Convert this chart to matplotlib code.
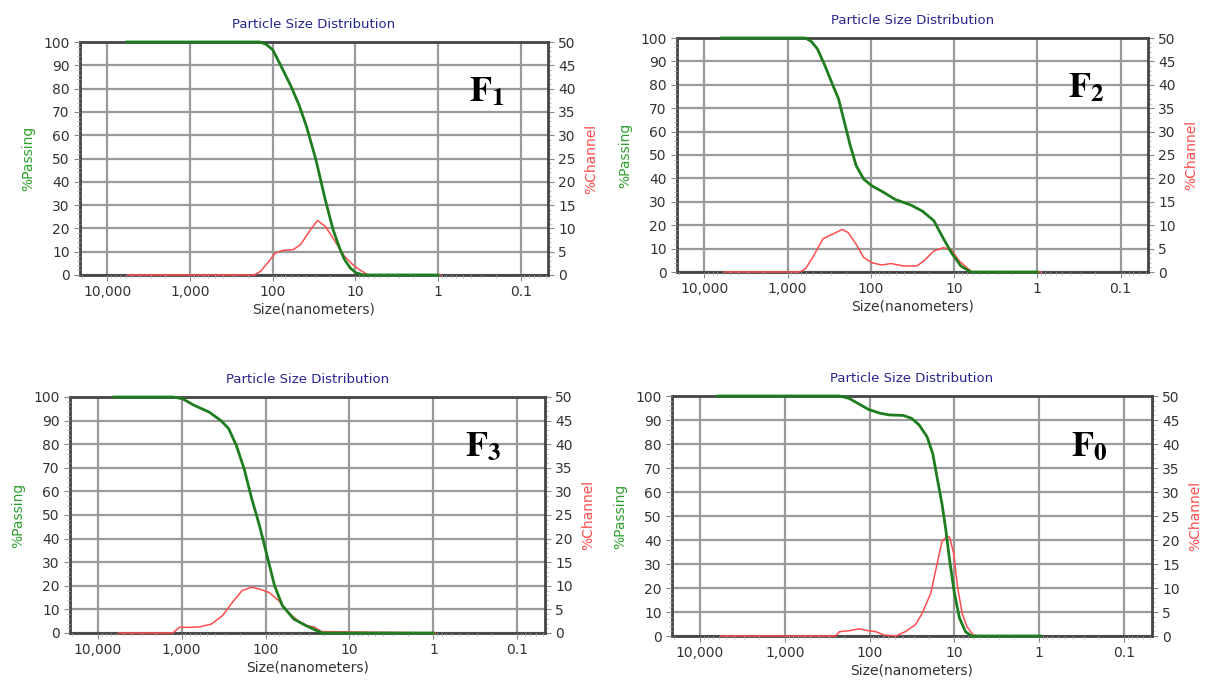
import numpy as np
import matplotlib.pyplot as plt
from matplotlib.ticker import FixedLocator, FixedFormatter, LogLocator, NullFormatter

plt.rcParams['mathtext.fontset'] = 'stix'

# ---- data: size (nm), %passing (left) and %channel (right)
f1_pass_x = [5800, 142, 120, 100, 80, 60, 48, 39, 30, 23, 18.6, 15.5, 13.5, 11.5, 9.8, 7.9, 1.0]
f1_pass_y = [100, 100, 99, 96.7, 90, 81, 73, 63.8, 49.5, 32, 19.5, 11.5, 6.6, 3, 0.9, 0, 0]
f1_chan_x = [5700, 167, 140, 115, 93, 75, 57, 46, 35, 28.6, 23, 18.6, 13.5, 10.3, 8.3, 7.0, 0.93]
f1_chan_y = [0, 0, 0.8, 2.6, 4.7, 5.3, 5.4, 6.5, 9.7, 11.7, 10.4, 7.9, 4.0, 1.9, 0.8, 0, 0]

f2_pass_x = [6300, 610, 520, 440, 355, 288, 245, 208, 177, 150, 122, 98, 70, 51, 33, 24, 17.5, 14, 10.8, 8.3, 6.3, 1.0]
f2_pass_y = [100, 100, 98.5, 95.4, 88, 80, 74, 64, 54, 45.4, 39.7, 36.9, 34, 31, 28.6, 26, 21.9, 15.4, 8.3, 2.6, 0, 0]
f2_chan_x = [5700, 716, 610, 490, 376, 288, 220, 187, 150, 122, 98, 75, 57, 41, 28, 23, 17.5, 13.4, 10.8, 8.7, 7.0, 6.1, 0.9]
f2_chan_y = [0, 0, 0.7, 3.4, 7.1, 8.1, 9.1, 8.4, 5.9, 3.1, 2.0, 1.5, 1.8, 1.3, 1.3, 2.4, 4.5, 5.2, 4.7, 2.4, 0.9, 0, 0]

f3_pass_x = [6400, 1270, 980, 710, 470, 340, 275, 223, 180, 146, 118, 96, 78, 63, 46, 33, 26, 21, 1.0]
f3_pass_y = [100, 100, 99.3, 96.5, 93.6, 90, 86.6, 79.5, 69.6, 56.9, 45.5, 32.8, 20, 11.6, 5.9, 3.1, 1.4, 0, 0]
f3_chan_x = [5600, 1270, 1070, 795, 610, 440, 325, 248, 190, 146, 118, 91, 70, 54, 41, 32, 26, 21.5, 0.95]
f3_chan_y = [0, 0, 1.2, 1.2, 1.3, 1.9, 3.7, 6.5, 9.0, 9.7, 9.3, 8.6, 6.9, 4.4, 2.6, 1.6, 1.2, 0.3, 0]

f0_pass_x = [6300, 227, 174, 134, 103, 75, 58, 40, 32, 26, 21, 18, 16, 14, 12.6, 11.4, 10, 8.7, 7.4, 6.3, 0.96]
f0_pass_y = [100, 100, 99, 96.7, 94.4, 92.8, 92.1, 91.9, 90.7, 87.9, 83, 76, 66, 55, 44, 31.7, 17.8, 7.4, 1.8, 0, 0]
f0_chan_x = [5700, 252, 227, 174, 134, 103, 84, 68, 49, 38, 29, 24, 19, 16.3, 14, 12.3, 11.4, 10.2, 9.2, 8.1, 7.1, 6.0, 5.4, 0.96]
f0_chan_y = [0, 0, 0.9, 1.1, 1.5, 1.1, 0.9, 0.2, 0, 0.9, 2.3, 4.7, 8.9, 14.4, 19.7, 20.7, 20.6, 17.2, 10.3, 4.7, 1.9, 0.2, 0, 0]

panels = [
    ('1', f1_pass_x, f1_pass_y, f1_chan_x, f1_chan_y, (80, 42, 548, 275)),
    ('2', f2_pass_x, f2_pass_y, f2_chan_x, f2_chan_y, (677, 38, 1148, 272)),
    ('3', f3_pass_x, f3_pass_y, f3_chan_x, f3_chan_y, (70, 397, 545, 633)),
    ('0', f0_pass_x, f0_pass_y, f0_chan_x, f0_chan_y, (672, 396, 1152, 636)),
]

x_ticks = [10000, 1000, 100, 10, 1, 0.1]
x_labels = ['10,000', '1,000', '100', '10', '1', '0.1']

W, H = 1208, 684
fig = plt.figure(figsize=(W / 100, H / 100), dpi=100)

for sub, px, py, cx, cy, (x0, y0, x1, y1) in panels:
    ax = fig.add_axes([x0 / W, 1 - y1 / H, (x1 - x0) / W, (y1 - y0) / H])
    ax2 = ax.twinx()
    ax.set_xscale('log')
    ax.set_xlim(10 ** 4.33, 10 ** -1.33)
    ax.set_ylim(0, 100)
    ax2.set_ylim(0, 50)

    ax.xaxis.set_major_locator(FixedLocator(x_ticks))
    ax.xaxis.set_major_formatter(FixedFormatter(x_labels))
    ax.xaxis.set_minor_locator(LogLocator(base=10, subs=np.arange(2, 10)))
    ax.xaxis.set_minor_formatter(NullFormatter())
    ax.set_yticks(np.arange(0, 101, 10))
    ax.set_yticks(np.arange(0, 101, 2), minor=True)
    ax2.set_yticks(np.arange(0, 51, 5))
    ax2.set_yticks(np.arange(0, 51, 1), minor=True)

    # grid lives on the lower axes so the channel curve is drawn over it
    ax2.xaxis.set_visible(True)
    ax2.tick_params(axis='x', which='both', length=0, labelbottom=False, labeltop=False)
    ax2.set_axisbelow(True)
    ax2.grid(True, which='major', axis='both', color='#9a9a9a', lw=1.6)

    ax.tick_params(axis='both', which='major', labelsize=10, length=4, color='#888888', colors='#333333')
    ax.tick_params(axis='both', which='minor', length=2.5, color='#b0b0b0')
    ax2.tick_params(axis='y', which='major', labelsize=10, length=4, color='#888888', colors='#333333')
    ax2.tick_params(axis='y', which='minor', length=2.5, color='#b0b0b0')

    for s in ax.spines.values():
        s.set_visible(False)
    for s in ax2.spines.values():
        s.set_color('#444444')
        s.set_linewidth(2)

    ax2.plot(cx, cy, color='#ff4d4d', lw=1.1, zorder=4, clip_on=False)
    ax.plot(px, py, color='#1e7d1e', lw=2.0, zorder=4, clip_on=False)
    ax.set_zorder(ax2.get_zorder() + 1)
    ax.patch.set_visible(False)

    ax.set_title('Particle Size Distribution', fontsize=9.5, color='#25258f', pad=10)
    ax.set_xlabel('Size(nanometers)', fontsize=10, color='#333333', labelpad=2)
    ax.set_ylabel('%Passing', fontsize=10, color='#2ea02e', labelpad=6)
    ax2.set_ylabel('%Channel', fontsize=10, color='#ff4d4d', labelpad=6)

    ax.text(0.87, 0.79, r'$\mathbf{F}_{\mathbf{' + sub + '}}$', transform=ax.transAxes,
            fontsize=26, ha='center', va='center', color='black')

fig.savefig('out.png', dpi=100)
